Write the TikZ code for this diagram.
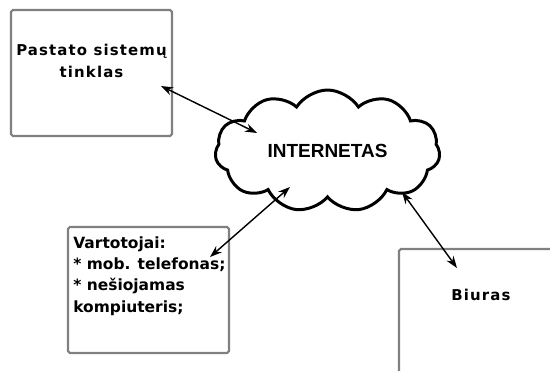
\documentclass[tikz,border=0pt]{standalone}
\usepackage{fontspec}
\setmainfont{DejaVu Sans}
\newfontfamily\boxfont{DejaVu Sans}[LetterSpace=7.6]
\newfontfamily\cloudfont{Liberation Sans}
\usepackage{tikz}
\usetikzlibrary{shapes.symbols,arrows.meta,calc}

\definecolor{boxgray}{RGB}{128,128,128}

\begin{document}
\begin{tikzpicture}[x = 0.02cm, y = -0.02cm,
        boxframe/.style = {draw = boxgray, line width = 1.2pt, rounded corners = 1pt, minimum width = 3.22cm, minimum height = 2.52cm, inner sep = 0pt},
        boxtext/.style = {inner sep = 0pt, font = \boxfont\bfseries\fontsize{8.5}{12.5}\selectfont},
        listtext/.style = {inner sep = 0pt, align = left, font = \bfseries\fontsize{8.8}{12.2}\selectfont},
        link/.style = {line width = 0.8pt, {Stealth[length = 2.4mm, width = 1.7mm]}-{Stealth[length = 2.4mm, width = 1.7mm]}}]

        \useasboundingbox (0, 0) rectangle (550, 371);

        % draw boxes
        \node[boxframe] (pastato) at (91.5, 73) {};
        \node[boxframe] (vartotojai) at (148.5, 290) {};
        \node[boxframe] (biuras) at (479.5, 312) {};

        \node[boxtext, align = center] (pastatoText) at (91.5, 61) {Pastato sistemų\\tinklas};
        \node[listtext, anchor = north west] (vartotojaiText) at (73, 236) {Vartotojai:\\* mob. telefonas;\\* nešiojamas\\kompiuteris;};
        \node[boxtext] (biurasText) at (481, 295) {Biuras};

        % draw cloud
        \node[cloud, draw, line width = 1.7pt, cloud puffs = 11, cloud puff arc = 115, aspect = 1.9, minimum width = 4.5cm, minimum height = 2.44cm, inner sep = 0pt,
            font = \cloudfont\bfseries\fontsize{10.8}{12}\selectfont] (internetas) at (327.5, 151) {INTERNETAS};

        % arrow end points
        \coordinate (pastatoEnd) at (161, 86);
        \coordinate (cloudWest) at (257, 133);
        \coordinate (cloudSouth) at (290, 187);
        \coordinate (vartotojaiEnd) at (210, 257);
        \coordinate (cloudEast) at (402, 192);
        \coordinate (biurasEnd) at (457, 268);

        \draw[link] (pastatoEnd) to (cloudWest);
        \draw[link] (cloudSouth) to (vartotojaiEnd);
        \draw[link] (cloudEast) to (biurasEnd);

\end{tikzpicture}
\end{document}
